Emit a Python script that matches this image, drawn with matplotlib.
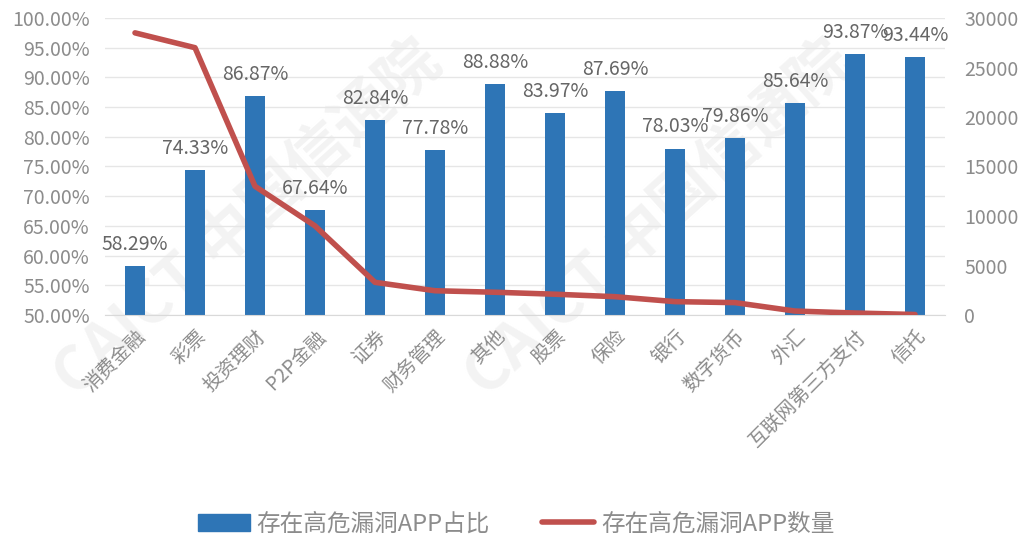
import matplotlib
matplotlib.use("Agg")
import matplotlib.pyplot as plt
from matplotlib.ticker import FuncFormatter, MultipleLocator
from matplotlib.lines import Line2D
from matplotlib.patches import Patch

categories = ["消费金融", "彩票", "投资理财", "P2P金融", "证券", "财务管理", "其他", "股票",
              "保险", "银行", "数字货币", "外汇", "互联网第三方支付", "信托"]
ratio = [58.29, 74.33, 86.87, 67.64, 82.84, 77.78, 88.88, 83.97, 87.69, 78.03, 79.86, 85.64, 93.87, 93.44]
counts = [28500, 27000, 13000, 9000, 3300, 2450, 2300, 2100, 1850, 1350, 1250, 400, 200, 50]
ratio_labels = ["58.29%", "74.33%", "86.87%", "67.64%", "82.84%", "77.78%", "88.88%", "83.97%",
                "87.69%", "78.03%", "79.86%", "85.64%", "93.87%", "93.44%"]
legend_names = ["存在高危漏洞APP占比", "存在高危漏洞APP数量"]

FAM = ["Noto Sans CJK SC", "DejaVu Sans"]
plt.rcParams['font.family'] = FAM
GRAY = "#8c8c8c"
LABEL = "#666666"
BAR = "#2E75B6"
LINE = "#C0504D"
NUMSIZE = 14

fig = plt.figure(figsize=(10.32, 5.4), dpi=100)
ax = fig.add_axes([105/1032, 1-315/540, 840/1032, 297/540])
ax.patch.set_alpha(0)

xs = list(range(len(categories)))

# faint watermark behind the marks
for (x, y) in [(0.17, 0.32), (0.66, 0.32)]:
    ax.text(x, y, "CAICT 中国信通院", transform=ax.transAxes, rotation=42, fontsize=44,
            color="#f3f3f3", ha="center", va="center", weight="bold", zorder=0.1, clip_on=False)

ax.bar(xs, [r - 50 for r in ratio], bottom=50, width=0.32, color=BAR, zorder=2)
for x, r, lab in zip(xs, ratio, ratio_labels):
    ax.annotate(lab, (x, r), xytext=(0, 8), textcoords="offset points", ha="center", va="bottom",
                fontsize=NUMSIZE, color=LABEL, zorder=4)

ax.set_ylim(50, 100)
ax.set_xlim(-0.5, len(categories) - 0.5)
ax.yaxis.set_major_locator(MultipleLocator(5))
ax.yaxis.set_major_formatter(FuncFormatter(lambda v, p: f"{v:.2f}%"))
ax.grid(axis="y", color="#e6e6e6", linewidth=1, zorder=0.5)
for s in ax.spines.values():
    s.set_visible(False)
ax.spines["bottom"].set_visible(True)
ax.spines["bottom"].set_color("#d9d9d9")
ax.tick_params(axis="y", length=0, labelsize=NUMSIZE, labelcolor=GRAY, pad=11)
ax.set_xticks(xs)
ax.set_xticklabels(categories, rotation=45, ha="right", rotation_mode="anchor",
                   fontsize=14, color=GRAY)
ax.tick_params(axis="x", length=0, pad=8)

ax2 = ax.twinx()
ax2.plot(xs, counts, color=LINE, linewidth=4, solid_capstyle="round", zorder=3)
ax2.set_ylim(0, 30000)
ax2.yaxis.set_major_locator(MultipleLocator(5000))
ax2.tick_params(axis="y", length=0, labelsize=NUMSIZE, labelcolor=GRAY, pad=14)
for s in ax2.spines.values():
    s.set_visible(False)

handles = [Patch(color=BAR), Line2D([0], [0], color=LINE, linewidth=4, solid_capstyle="round")]
fig.legend(handles, legend_names, loc="center", bbox_to_anchor=(0.5, 1-524/540), ncol=2,
           frameon=False, fontsize=17, labelcolor=GRAY, handlelength=2.2, columnspacing=2.2,
           handletextpad=0.3)

fig.savefig("out.png", dpi=100)
